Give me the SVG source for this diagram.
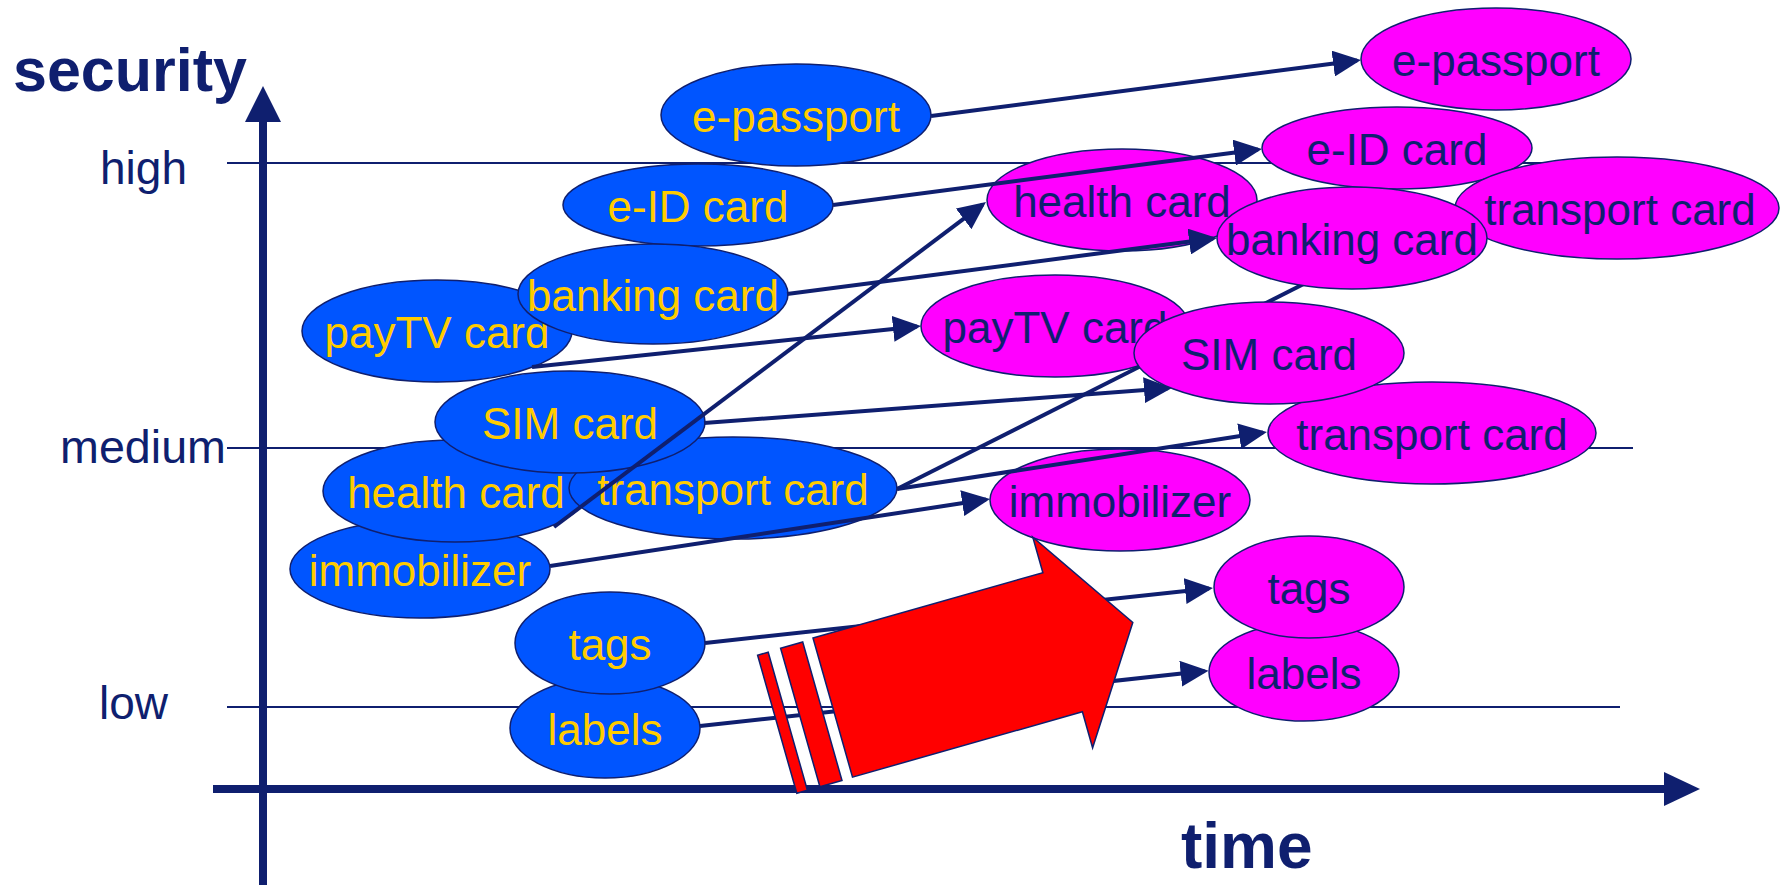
<svg xmlns="http://www.w3.org/2000/svg" width="1780" height="885" viewBox="0 0 1780 885">
<style>
.grid{stroke:#0F1F6F;stroke-width:2;fill:none}
.axis{stroke:#0F1F6F;stroke-width:8;fill:none}
.axhead{fill:#0F1F6F}
.lbl{font-family:"Liberation Sans",Arial,sans-serif;font-size:46px;fill:#0F1F6F}
.title{font-family:"Liberation Sans",Arial,sans-serif;font-weight:bold;fill:#0F1F6F}
.blue ellipse{fill:#0055FF;stroke:#0F1F6F;stroke-width:1.5}
.blue text{font-family:"Liberation Sans",Arial,sans-serif;font-size:44px;fill:#FFCC00;text-anchor:middle}
.mag ellipse{fill:#FF00FF;stroke:#0F1F6F;stroke-width:1.5}
.mag text{font-family:"Liberation Sans",Arial,sans-serif;font-size:44px;fill:#0F1F6F;text-anchor:middle}
.conn line{stroke:#0F1F6F;stroke-width:4;marker-end:url(#ah)}
.red{fill:#FF0000;stroke:#0F1F6F;stroke-width:1.5}
</style>
<defs>
<marker id="ah" markerUnits="userSpaceOnUse" markerWidth="28" markerHeight="26" refX="24" refY="13" orient="auto">
<path d="M0,0 L28,13 L0,26 Z" fill="#0F1F6F"/>
</marker>
</defs>
<rect width="1780" height="885" fill="#FFFFFF"/>
<g id="grid">
<line class="grid" x1="227" y1="163" x2="1632" y2="163"/>
<line class="grid" x1="227" y1="448" x2="1633" y2="448"/>
<line class="grid" x1="227" y1="707" x2="1620" y2="707"/>
</g>
<g id="axes">
<line class="axis" x1="263" y1="885" x2="263" y2="118"/>
<polygon class="axhead" points="263,86 281,122 245,122"/>
<line class="axis" x1="213" y1="789" x2="1668" y2="789"/>
<polygon class="axhead" points="1700,789 1664,772 1664,806"/>
<text class="title" x="13" y="91" font-size="61">security</text>
<text class="title" x="1181" y="868" font-size="64">time</text>
<text class="lbl" x="100" y="184">high</text>
<text class="lbl" x="60" y="463" textLength="166" lengthAdjust="spacingAndGlyphs">medium</text>
<text class="lbl" x="99" y="719">low</text>
</g>
<g id="blue-nodes" class="blue">
<g id="b-epassport"><ellipse cx="796" cy="115" rx="135" ry="51"/><text x="796" y="132">e-passport</text></g>
<g id="b-paytv"><ellipse cx="437" cy="331" rx="135" ry="51"/><text x="437" y="348">payTV card</text></g>
<g id="b-eid"><ellipse cx="698" cy="205" rx="135" ry="41"/><text x="698" y="222">e-ID card</text></g>
<g id="b-banking"><ellipse cx="653" cy="294" rx="135" ry="50"/><text x="653" y="311">banking card</text></g>
<g id="b-immobilizer"><ellipse cx="420" cy="569" rx="130" ry="49"/><text x="420" y="586">immobilizer</text></g>
<g id="b-health"><ellipse cx="455" cy="491" rx="132" ry="51"/><text x="456" y="508">health card</text></g>
<g id="b-transport"><ellipse cx="733" cy="488" rx="164" ry="51"/><text x="733" y="505">transport card</text></g>
<g id="b-sim"><ellipse cx="570" cy="422" rx="135" ry="51"/><text x="570" y="439">SIM card</text></g>
<g id="b-labels"><ellipse cx="605" cy="728" rx="95" ry="50"/><text x="605" y="745">labels</text></g>
<g id="b-tags"><ellipse cx="610" cy="643" rx="95" ry="51"/><text x="610" y="660">tags</text></g>
</g>
<g id="magenta-nodes" class="mag">
<g id="m-epassport"><ellipse cx="1496" cy="59" rx="135" ry="51"/><text x="1496" y="76">e-passport</text></g>
<g id="m-eid"><ellipse cx="1397" cy="148" rx="135" ry="41"/><text x="1397" y="165">e-ID card</text></g>
<g id="m-health"><ellipse cx="1122" cy="200" rx="135" ry="51"/><text x="1122" y="217">health card</text></g>
<g id="m-paytv"><ellipse cx="1055" cy="326" rx="134" ry="51"/><text x="1055" y="343">payTV card</text></g>
<g id="m-transport1"><ellipse cx="1617" cy="208" rx="162" ry="51"/><text x="1620" y="225">transport card</text></g>
<g id="m-transport2"><ellipse cx="1432" cy="433" rx="164" ry="51"/><text x="1432" y="450">transport card</text></g>
<g id="m-immobilizer"><ellipse cx="1120" cy="500" rx="130" ry="51"/><text x="1120" y="517">immobilizer</text></g>
<g id="m-labels"><ellipse cx="1304" cy="672" rx="95" ry="49"/><text x="1304" y="689">labels</text></g>
<g id="m-tags"><ellipse cx="1309" cy="587" rx="95" ry="51"/><text x="1309" y="604">tags</text></g>
</g>
<g id="connectors" class="conn">
<line x1="931" y1="116" x2="1357" y2="60.5"/>
<line x1="833" y1="205" x2="1258" y2="149.5"/>
<line x1="787" y1="294" x2="1213" y2="238.5"/>
<line x1="532" y1="367" x2="917" y2="326.4"/>
<line x1="704" y1="423" x2="1168" y2="388.3"/>
<line x1="554" y1="527" x2="982.8" y2="204.4"/>
<line x1="897" y1="489" x2="1361.4" y2="254.8"/>
<line x1="897" y1="489" x2="1263" y2="432.6"/>
<line x1="550" y1="566" x2="986" y2="499.6"/>
<line x1="705" y1="643" x2="1209" y2="588.4"/>
<line x1="700" y1="726" x2="1204.6" y2="671.1"/>
</g>
<g id="magenta-nodes-top" class="mag">
<g id="m-sim"><ellipse cx="1269" cy="353" rx="135" ry="51"/><text x="1269" y="370">SIM card</text></g>
<g id="m-banking"><ellipse cx="1352" cy="238" rx="135" ry="51"/><text x="1352" y="255">banking card</text></g>
</g>
<g id="red-arrow">
<polygon class="red" points="757.6,655.2 768.2,652.2 807.4,790.3 796.8,793.3"/>
<polygon class="red" points="780.6,648.3 802.7,642 842,780.5 819.9,786.8"/>
<polygon class="red" points="813,638 1042.9,572.7 1032.8,537.1 1132.8,622.4 1092.6,747.8 1082.4,711.8 852.5,777.1"/>
</g>
</svg>
